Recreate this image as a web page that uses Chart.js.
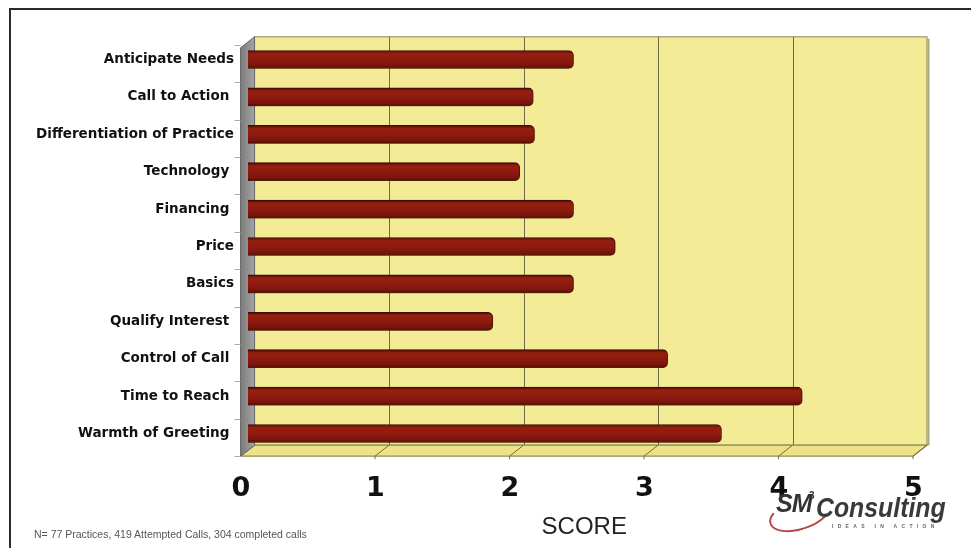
<!DOCTYPE html>
<html><head><meta charset="utf-8">
<script src="https://cdn.jsdelivr.net/npm/chart.js@4"></script>
<style>
html,body{margin:0;padding:0;background:#fff;}
#wrap{position:relative;width:971px;height:548px;overflow:hidden;background:#fff;}
#frame{position:absolute;left:9px;top:8px;width:990px;height:580px;border-top:2px solid #2b2b2b;border-left:2px solid #2b2b2b;}
canvas{position:absolute;left:0;top:0;}
#note{position:absolute;left:34px;top:528px;font:10.5px "Liberation Sans",Arial,sans-serif;color:#555;white-space:nowrap;}
#logo{position:absolute;left:768px;top:486px;width:200px;height:50px;}
#sm{position:absolute;left:8px;top:3px;font:italic bold 25px "Liberation Sans",Arial,sans-serif;color:#333;letter-spacing:-1px;}
#sup{position:absolute;left:41px;top:4px;font:bold 10px "Liberation Sans",Arial,sans-serif;color:#333;}
#cons{position:absolute;left:48px;top:7px;font:italic bold 27px "Liberation Sans",Arial,sans-serif;color:#3a3a3a;transform:scaleX(0.92);transform-origin:left top;}
#tag{position:absolute;left:64px;top:37px;font:bold 5px "Liberation Sans",Arial,sans-serif;color:#666;letter-spacing:4.3px;}
#swoosh{position:absolute;left:0px;top:12px;width:60px;height:28px;border-radius:50%;border:2px solid #b84848;border-top-color:transparent;border-right-color:transparent;transform:rotate(-18deg);}
</style>
</head><body>
<div id="wrap">
<canvas id="c" width="971" height="548"></canvas>
<div id="frame"></div>
<div id="note">N= 77 Practices, 419 Attempted Calls, 304 completed calls</div>
<div id="logo"><div id="swoosh"></div><div id="sm">SM</div><div id="sup">3</div><div id="cons">Consulting</div><div id="tag">IDEAS IN ACTION</div></div>
</div>
<script>
const categories = ['Anticipate Needs','Call to Action ','Differentiation of Practice','Technology ','Financing ','Price','Basics','Qualify Interest ','Control of Call ','Time to Reach ','Warmth of Greeting '];
const scores = [2.42, 2.12, 2.13, 2.02, 2.42, 2.73, 2.42, 1.82, 3.12, 4.12, 3.52];
const tickLabels = ['0','1','2','3','4','5'];
const axisTitle = 'SCORE';

const wall3d = {
  id:'wall3d',
  beforeDatasetsDraw(chart){
    const ctx = chart.ctx, a = chart.chartArea, xs = chart.scales.x;
    const bx = 6.5, fx = -7.5;
    const top = a.top - 4, bBot = a.bottom - 7, fBot = a.bottom + 4, fTop = top + 11;
    const x0b = xs.getPixelForValue(0)+bx, x5b = xs.getPixelForValue(5)+bx;
    const x0f = xs.getPixelForValue(0)+fx, x5f = xs.getPixelForValue(5)+fx;
    ctx.save();
    ctx.fillStyle = '#f4eb96';
    ctx.fillRect(x0b, top, x5b-x0b, bBot-top);
    ctx.strokeStyle = '#9a9870'; ctx.lineWidth = 1.2;
    ctx.strokeRect(x0b, top, x5b-x0b, bBot-top);
    ctx.strokeStyle = '#a9a780'; ctx.lineWidth = 2;
    ctx.beginPath(); ctx.moveTo(x5b+1.5, top+2); ctx.lineTo(x5b+1.5, bBot); ctx.stroke();
    ctx.strokeStyle = '#6e6c48'; ctx.lineWidth = 1;
    for (let v=1; v<5; v++){
      const x = Math.round(xs.getPixelForValue(v)+bx)+0.5;
      ctx.beginPath(); ctx.moveTo(x, top); ctx.lineTo(x, bBot); ctx.stroke();
    }
    ctx.fillStyle = '#ede285';
    ctx.beginPath(); ctx.moveTo(x0b,bBot); ctx.lineTo(x5b,bBot); ctx.lineTo(x5f,fBot); ctx.lineTo(x0f,fBot); ctx.closePath(); ctx.fill();
    ctx.strokeStyle = '#8e8c5c'; ctx.lineWidth = 1.2; ctx.stroke();
    ctx.strokeStyle = '#6e6c48'; ctx.lineWidth = 1;
    for (let v=1; v<=5; v++){
      ctx.beginPath();
      ctx.moveTo(xs.getPixelForValue(v)+bx, bBot);
      ctx.lineTo(xs.getPixelForValue(v)+fx, fBot);
      ctx.lineTo(xs.getPixelForValue(v)+fx, fBot+3);
      ctx.stroke();
    }
    const g = ctx.createLinearGradient(x0f,0,x0b,0);
    g.addColorStop(0,'#7a7a7a'); g.addColorStop(1,'#a5a5a5');
    ctx.fillStyle = g;
    ctx.beginPath(); ctx.moveTo(x0b,top); ctx.lineTo(x0b,bBot); ctx.lineTo(x0f,fBot); ctx.lineTo(x0f,fTop); ctx.closePath(); ctx.fill();
    ctx.strokeStyle = '#6a6a6a'; ctx.lineWidth = 1; ctx.stroke();
    const n = categories.length, step = (a.bottom-a.top)/n;
    ctx.strokeStyle = '#aaaaaa';
    for (let k=0; k<=n; k++){
      const y = Math.round(a.top + k*step + 4)+0.5;
      ctx.beginPath(); ctx.moveTo(x0f-6, y); ctx.lineTo(x0f, y); ctx.stroke();
    }
    ctx.restore();
    ctx.shadowColor = 'rgba(90,70,10,0.45)';
    ctx.shadowOffsetX = 1; ctx.shadowOffsetY = 2; ctx.shadowBlur = 2;
  },
  afterDatasetsDraw(chart){
    const ctx = chart.ctx;
    ctx.shadowColor = 'rgba(0,0,0,0)'; ctx.shadowOffsetX = 0; ctx.shadowOffsetY = 0; ctx.shadowBlur = 0;
  }
};

function barFill(c){
  const ch = c.chart, ys = ch.scales.y;
  if (!ys || !ch.chartArea || c.dataIndex === undefined) return '#8c1a11';
  const y = ys.getPixelForValue(c.dataIndex);
  const g = ch.ctx.createLinearGradient(0, y-9, 0, y+9);
  g.addColorStop(0, '#4e0a05');
  g.addColorStop(0.18, '#96200f');
  g.addColorStop(0.55, '#8c1a10');
  g.addColorStop(0.85, '#7a140b');
  g.addColorStop(1, '#500b06');
  return g;
}

new Chart(document.getElementById('c'), {
  type:'bar',
  data:{ labels: categories, datasets:[{ data: scores, backgroundColor: barFill, borderColor:'#3f0804', borderWidth:1, borderRadius:5, borderSkipped:'start', barThickness:18 }]},
  options:{
    indexAxis:'y', responsive:false, animation:false,
    layout:{padding:{left:0,right:50.5,top:40.8,bottom:0}},
    plugins:{legend:{display:false},tooltip:{enabled:false}},
    scales:{
      x:{min:0,max:5,grid:{display:false,drawTicks:false},border:{display:false},
        ticks:{stepSize:1,labelOffset:-7,padding:21,color:'#111',font:{family:'DejaVu Sans',weight:'bold',size:27},callback:(v,i)=>tickLabels[i]},
        title:{display:true,text:axisTitle,color:'#222',font:{family:'Liberation Sans',size:24},padding:{top:0,bottom:6}},
        afterFit:(s)=>{s.height=548-452.2;}
      },
      y:{grid:{display:false,drawTicks:false},border:{display:false},
        ticks:{padding:14,color:'#111',font:{family:'DejaVu Sans',weight:'bold',size:13.5}},
        afterFit:(s)=>{s.width=248;}
      }
    }
  },
  plugins:[wall3d]
});
</script>
</body></html>
